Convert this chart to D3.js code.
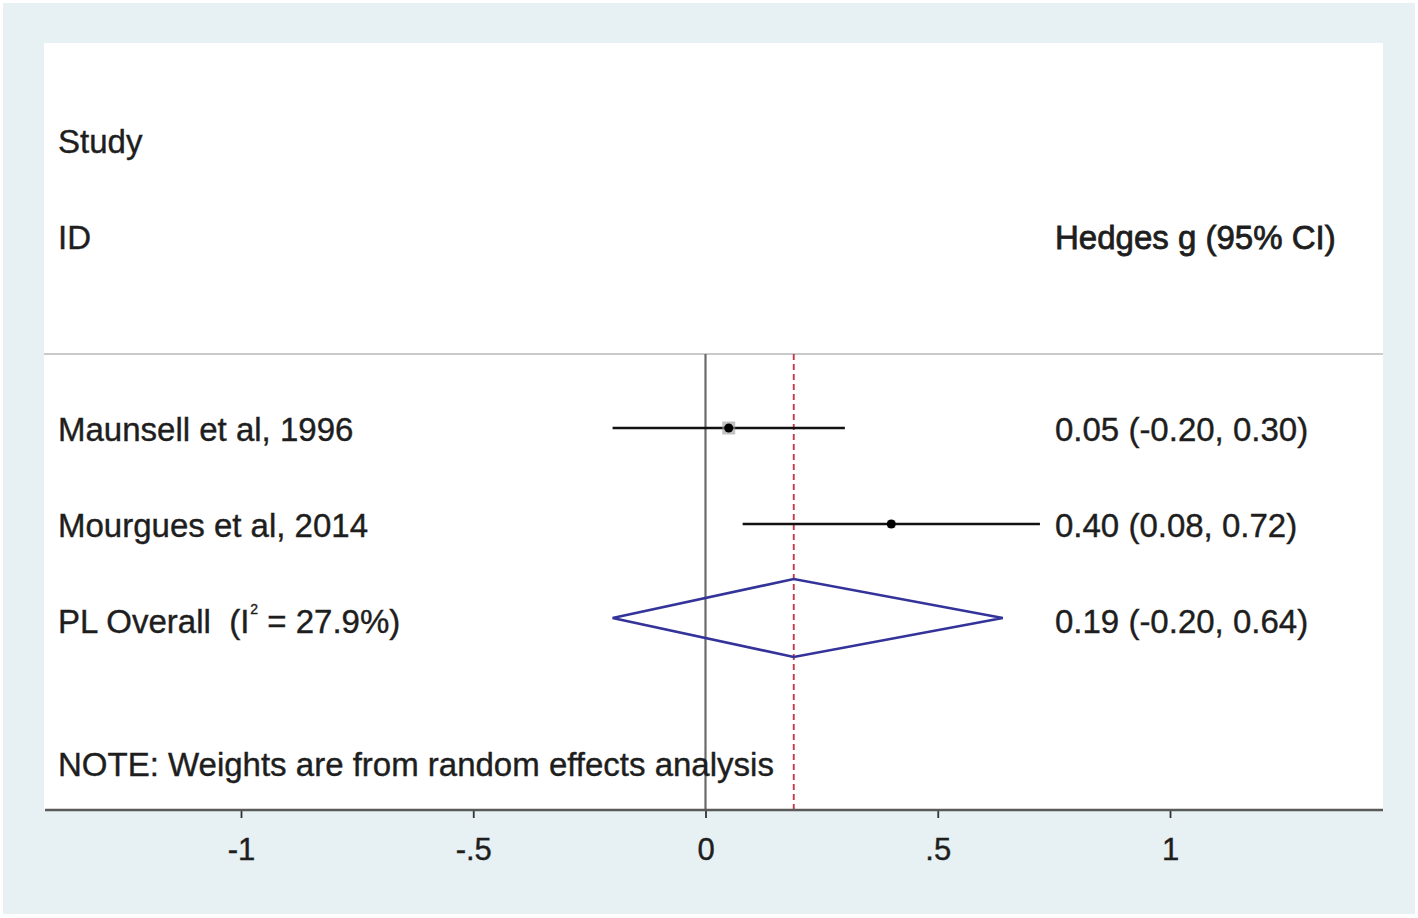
<!DOCTYPE html>
<html><head><meta charset="utf-8">
<script src="https://cdn.jsdelivr.net/npm/d3@7"></script>
<style>body{margin:0;background:#fff}svg{display:block}text{white-space:pre}</style>
</head><body>
<script>
const studies = ["Maunsell et al, 1996", "Mourgues et al, 2014"];
const estimates = [0.05, 0.40];
const lower = [-0.20, 0.08];
const upper = [0.30, 0.72];
const boxSizes = [13, 8];
const overallLabel = "PL Overall";
const overallI2 = "27.9%";
const overall = {est: 0.19, lo: -0.20, hi: 0.64};
const ciLabels = ["0.05 (-0.20, 0.30)", "0.40 (0.08, 0.72)"];
const overallCiLabel = "0.19 (-0.20, 0.64)";
const tickValues = [-1, -0.5, 0, 0.5, 1];
const tickLabels = ["-1", "-.5", "0", ".5", "1"];
const note = "NOTE: Weights are from random effects analysis";

const W = 1418, H = 918;
const svg = d3.select("body").append("svg").attr("width", W).attr("height", H);
const font = "'Liberation Sans', Arial, Helvetica, sans-serif";
const fs = 33;
const txtCol = "#1e1e1e";

svg.append("rect").attr("x",3).attr("y",3).attr("width",1412).attr("height",911).attr("fill","#e7f0f2");
const panel = {l:44, r:1383, t:43, b:810};
svg.append("rect").attr("x",panel.l).attr("y",panel.t).attr("width",panel.r-panel.l).attr("height",panel.b-panel.t).attr("fill","#fff");

const x = d3.scaleLinear().domain([-1, 1]).range([241, 1170]);
const row = d3.scaleLinear().domain([0, 6]).range([141, 717]);
const sepY = 354;

svg.append("line").attr("x1",panel.l).attr("x2",panel.r).attr("y1",sepY).attr("y2",sepY)
  .attr("stroke","#b8b8b8").attr("stroke-width",1.5);
svg.append("line").attr("x1",x(0)).attr("x2",x(0)).attr("y1",sepY).attr("y2",panel.b)
  .attr("stroke","#6a6a6a").attr("stroke-width",2.2);
svg.append("line").attr("x1",x(overall.est)).attr("x2",x(overall.est)).attr("y1",sepY).attr("y2",panel.b)
  .attr("stroke","#c8394a").attr("stroke-width",1.9).attr("stroke-dasharray","6,4");

const axis = d3.axisBottom(x).tickValues(tickValues).tickFormat((d,i)=>tickLabels[i]).tickSize(8).tickPadding(20);
const ag = svg.append("g").attr("transform",`translate(0,${panel.b})`).call(axis);
ag.select(".domain").remove();
ag.append("line").attr("x1",panel.l+1).attr("x2",panel.r).attr("y1",0).attr("y2",0).attr("stroke","#5a5a5a").attr("stroke-width",2.4);
ag.selectAll(".tick line").attr("stroke","#333").attr("stroke-width",1.8);
ag.selectAll(".tick text").attr("font-family",font).attr("font-size",31).attr("fill",txtCol)
  .attr("stroke",txtCol).attr("stroke-width",0.4);

function label(xp, yp, t, anchor){
  return svg.append("text").attr("x",xp).attr("y",yp).attr("dy","0.35em").attr("font-family",font)
    .attr("font-size",fs).attr("fill",txtCol).attr("stroke",txtCol).attr("stroke-width",0.4)
    .attr("text-anchor",anchor||"start").text(t);
}
label(58, row(0), "Study");
label(58, row(1), "ID");
label(1055, row(1), "Hedges g (95% CI)").attr("stroke-width",0.8);

studies.forEach((s,i)=>{
  const yy = row(3+i) - 1;
  label(58, row(3+i), s);
  label(1055, row(3+i), ciLabels[i]);
  svg.append("line").attr("x1",x(lower[i])).attr("x2",x(upper[i])).attr("y1",yy).attr("y2",yy)
    .attr("stroke","#111").attr("stroke-width",2.6);
  svg.append("rect").attr("x",x(estimates[i])-boxSizes[i]/2).attr("y",yy-boxSizes[i]/2)
    .attr("width",boxSizes[i]).attr("height",boxSizes[i]).attr("fill","#9a9a9a").attr("opacity",0.6);
  svg.append("circle").attr("cx",x(estimates[i])).attr("cy",yy).attr("r",4.5).attr("fill","#000");
});

const oy = row(5) - 3;
const ot = label(58, row(5), overallLabel + "  (I");
ot.append("tspan").attr("font-size",14).attr("dy",-19).attr("dx",1).text("2");
ot.append("tspan").attr("dy",19).attr("font-size",fs).text(" = " + overallI2 + ")");
label(1055, row(5), overallCiLabel);
const dh = 39;
svg.append("path")
  .attr("d", d3.line()([[x(overall.lo),oy],[x(overall.est),oy-dh],[x(overall.hi),oy],[x(overall.est),oy+dh]]) + "Z")
  .attr("fill","none").attr("stroke","#33339a").attr("stroke-width",2.6);

label(58, row(6.49), note);
</script>
</body></html>
